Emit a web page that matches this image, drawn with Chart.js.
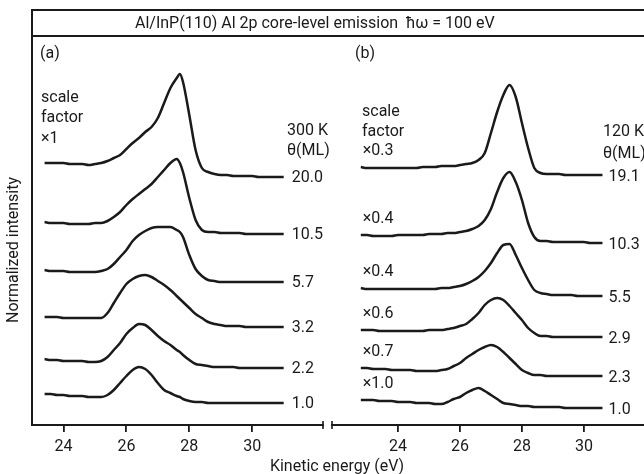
<!DOCTYPE html>
<html><head><meta charset="utf-8">
<script src="https://cdn.jsdelivr.net/npm/chart.js@4.4.0/dist/chart.umd.min.js"></script>
<style>
html,body{margin:0;padding:0;background:#fff;}
#wrap{position:relative;width:644px;height:474px;overflow:hidden;font-family:Roboto,"DejaVu Sans",sans-serif;color:#1a1a1a;}
canvas{position:absolute;left:0;top:0;}
.t{position:absolute;white-space:nowrap;font-size:16px;line-height:1;transform:translateY(-50%);}
#frame{position:absolute;left:31px;top:9px;width:640px;height:24px;border:2px solid #1a1a1a;border-right:none;}
</style></head><body>
<div id="wrap">
<canvas id="ca" width="644" height="474"></canvas>
<canvas id="cb" width="644" height="474"></canvas>
<div id="frame"></div>
<div class="t" style="left:135px;top:23px">Al/InP(110) Al 2p core-level emission&nbsp; ħω = 100 eV</div>
<div class="t" style="left:40px;top:53px">(a)</div>
<div class="t" style="left:355px;top:53px">(b)</div>
<div class="t" style="left:41px;top:97px">scale</div>
<div class="t" style="left:41px;top:117px">factor</div>
<div class="t" style="left:41px;top:138px">×1</div>
<div class="t" style="left:287px;top:130px">300 K</div>
<div class="t" style="left:287px;top:150px">θ(ML)</div>
<div class="t" style="left:362px;top:111px">scale</div>
<div class="t" style="left:362px;top:131px">factor</div>
<div class="t" style="left:603px;top:131px">120 K</div>
<div class="t" style="left:603px;top:153px">θ(ML)</div>
<div id="ann"></div>
<div class="t" style="left:13px;top:250px;transform:translate(-50%,-50%) rotate(-90deg)">Normalized intensity</div>
<div class="t" style="left:337px;top:466px;transform:translate(-50%,-50%)">Kinetic energy (eV)</div>
</div>
<script>
// ---- data ----
const energiesA = [23.4,23.6,23.8,24.0,24.2,24.4,24.6,24.8,25.0,25.2,25.4,25.6,25.8,26.0,26.2,26.4,26.6,26.8,27.0,27.2,27.4,27.6,27.7,27.8,28.0,28.2,28.4,28.6,28.8,29.0,29.2,29.4,29.6,29.8,30.0,30.2,30.4,30.6,30.8,31.0];
const energiesB = [22.8,23.0,23.2,23.4,23.6,23.8,24.0,24.2,24.4,24.6,24.8,25.0,25.2,25.4,25.6,25.8,26.0,26.2,26.4,26.6,26.8,27.0,27.2,27.4,27.6,27.8,28.0,28.2,28.4,28.6,28.8,29.0,29.2,29.4,29.6,29.8,30.0,30.2,30.4,30.6];

// panel (a) 300 K, vertically offset traces (arb. units)
const a_20_0 = [262,262,262,262,261,261,261,260,261,262,264,267,270,276,282,287,293,298,307,322,337,347,351,343,310,275,257,253,251,250,250,249,249,249,249,248,248,248,248,248];
const a_10_5 = [203,202,202,202,201,201,201,201,202,202,204,208,213,220,226,231,236,241,248,255,262,266,262,253,227,205,195,193,193,192,192,192,192,191,191,191,191,191,191,191];
const a_5_7  = [155,154,154,154,153,153,153,153,153,154,156,161,168,175,184,190,194,197,198,198,198,195,193,188,170,156,149,145,144,143,143,143,143,143,143,143,143,143,143,143];
const a_3_2  = [108,108,108,107,107,107,107,107,107,107,112,122,132,141,146,149,150,148,144,140,135,129,126,123,117,111,107,103,101,100,99,99,99,98,98,98,98,98,98,98];
const a_2_2  = [66,65,65,64,64,64,64,63,63,64,68,75,82,91,97,101,100,95,89,84,80,75,73,70,65,61,60,59,58,58,58,58,57,57,57,57,57,57,57,57];
const a_1_0  = [31,31,30,30,29,29,29,28,28,28,30,35,42,49,55,58,56,50,42,35,32,29,28,26,24,23,23,22,22,22,22,22,22,22,22,22,22,22,22,22];

// panel (b) 120 K
const b_19_1 = [258,257,257,257,257,257,257,257,257,257,258,258,258,259,259,259,260,261,262,265,272,292,313,330,340,328,302,277,257,252,251,251,251,250,250,250,250,250,250,250];
const b_10_3 = [190,190,189,189,189,189,190,190,190,190,190,191,191,191,192,192,193,194,196,199,205,216,233,247,253,243,225,202,188,184,184,183,183,183,183,183,183,182,182,182];
const b_5_5  = [137,136,136,136,136,136,136,136,136,136,136,136,136,137,137,138,139,141,144,148,154,162,172,180,181,170,157,145,135,132,131,130,130,130,130,129,129,129,129,129];
const b_2_9  = [95,95,95,94,94,94,94,94,94,94,94,95,95,95,96,97,99,101,106,112,120,125,127,125,119,112,105,97,92,89,89,88,88,88,88,88,88,88,88,88];
const b_2_3  = [57,57,56,56,56,55,55,55,55,54,54,54,54,55,56,59,62,67,71,75,78,80,78,73,67,61,55,52,50,50,49,49,49,49,49,49,49,49,49,49];
const b_1_0  = [25,25,25,24,24,24,23,23,23,22,22,22,21,21,23,26,28,32,35,37,34,30,26,22,21,20,19,19,18,18,18,18,18,17,17,17,17,17,17,17];

const coverageA = ["20.0","10.5","5.7","3.2","2.2","1.0"];
const coverageB = ["19.1","10.3","5.5","2.9","2.3","1.0"];
const scaleFactorsB = ["×0.3","×0.4","×0.4","×0.6","×0.7","×1.0"];
const tickValues = [24,26,28,30];

const seriesA = [a_20_0,a_10_5,a_5_7,a_3_2,a_2_2,a_1_0];
const seriesB = [b_19_1,b_10_3,b_5_5,b_2_9,b_2_3,b_1_0];

// ---- drawing ----
const ink = '#1a1a1a';
const H = 474, W = 644, TOP = 36, AXIS_Y = 425, XAXIS_H = 40;

function datasets(energies, series){
  return series.map(vals => ({
    data: energies.map((e,i)=>({x:e,y:vals[i]})),
    borderColor: ink, borderWidth: 2.5, pointRadius: 0,
    cubicInterpolationMode: 'monotone', fill: false
  }));
}
const breakMark = side => ({
  id: 'brk' + side,
  afterDraw(c){
    const a = c.chartArea, ctx = c.ctx;
    const x = side === 'right' ? a.right : a.left;
    ctx.save(); ctx.strokeStyle = ink; ctx.lineWidth = 1.6;
    ctx.beginPath(); ctx.moveTo(x, a.bottom - 4); ctx.lineTo(x, a.bottom + 4); ctx.stroke();
    ctx.restore();
  }
});
function xScale(min, max){
  return {
    type: 'linear', min, max,
    afterBuildTicks: s => { s.ticks = tickValues.map(v => ({value: v})); },
    afterFit: s => { s.height = XAXIS_H; },
    grid: {display: true, drawOnChartArea: false, drawTicks: true, tickLength: 7, color: ink, lineWidth: 1.8},
    border: {display: true, color: ink, width: 2},
    ticks: {color: ink, font: {family: 'Roboto', size: 16}, padding: 5, maxRotation: 0, autoSkip: false}
  };
}
const common = {responsive: false, animation: false, devicePixelRatio: 1,
  plugins: {legend: {display: false}, tooltip: {enabled: false}}};

const chartA = new Chart(document.getElementById('ca'), {
  type: 'line',
  data: {datasets: datasets(energiesA, seriesA)},
  options: Object.assign({}, common, {
    layout: {padding: {left: 32, right: W - 323, top: TOP, bottom: H - AXIS_Y - XAXIS_H}},
    scales: {
      x: xScale(23.0, 32.25),
      y: {min: 0, max: AXIS_Y - TOP, afterFit: s => { s.width = 0; }, ticks: {display: false},
          grid: {display: false}, border: {display: true, color: ink, width: 2}}
    }
  }),
  plugins: [breakMark('right')]
});
const chartB = new Chart(document.getElementById('cb'), {
  type: 'line',
  data: {datasets: datasets(energiesB, seriesB)},
  options: Object.assign({}, common, {
    layout: {padding: {left: 332, right: 0, top: TOP, bottom: H - AXIS_Y - XAXIS_H}},
    scales: {
      x: xScale(21.87, 31.94),
      y: {display: false, min: 0, max: AXIS_Y - TOP}
    }
  }),
  plugins: [breakMark('left')]
});

// labels tied to the curves' right ends / left starts
const ann = document.getElementById('ann');
function label(text, x, y){
  const d = document.createElement('div'); d.className = 't';
  d.style.left = x + 'px'; d.style.top = y + 'px'; d.textContent = text; ann.appendChild(d);
}
seriesA.forEach((vals,i) => {
  const last = vals[vals.length-1];
  label(coverageA[i], chartA.scales.x.getPixelForValue(energiesA[energiesA.length-1]) + 8, chartA.scales.y.getPixelForValue(last));
});
seriesB.forEach((vals,i) => {
  const last = vals[vals.length-1];
  label(coverageB[i], chartB.scales.x.getPixelForValue(energiesB[energiesB.length-1]) + 6, chartB.scales.y.getPixelForValue(last) + 1);
  label(scaleFactorsB[i], chartB.scales.x.getPixelForValue(energiesB[0]) + 2, chartB.scales.y.getPixelForValue(vals[0]) - 17);
});
</script>
</body></html>
